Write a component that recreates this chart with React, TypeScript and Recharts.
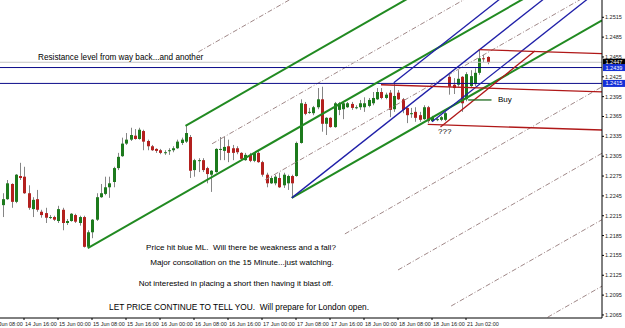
import React from 'react';
import { ComposedChart, Bar, XAxis, YAxis, ReferenceLine } from 'recharts';

// hourly candles, first one is bar #3 (bar 0 = 14 Jun 08:00)
const FIRST_BAR = 3;
const opens = [
  1.2231, 1.2240, 1.2263, 1.2236, 1.2275, 1.2274, 1.2249, 1.2225, 1.2240, 1.2221,
  1.2219, 1.2213, 1.2213, 1.2207, 1.2224, 1.2204, 1.2207, 1.2216, 1.2204, 1.2213,
  1.2168, 1.2190, 1.2209, 1.2243, 1.2248, 1.2258, 1.2266, 1.2287, 1.2305, 1.2324,
  1.2330, 1.2336, 1.2331, 1.2343, 1.2328, 1.2320, 1.2316, 1.2314, 1.2311, 1.2314,
  1.2314, 1.2317, 1.2325, 1.2327, 1.2334, 1.2284, 1.2298, 1.2299, 1.2287, 1.2277,
  1.2281, 1.2316, 1.2313, 1.2320, 1.2317, 1.2317, 1.2310, 1.2299, 1.2307, 1.2298,
  1.2310, 1.2296, 1.2277, 1.2264, 1.2264, 1.2272, 1.2261, 1.2264, 1.2275, 1.2275,
  1.2325, 1.2384, 1.2372, 1.2370, 1.2379, 1.2391, 1.2354, 1.2363, 1.2349, 1.2375,
  1.2376, 1.2379, 1.2384, 1.2379, 1.2379, 1.2379, 1.2381, 1.2385, 1.2391, 1.2402,
  1.2393, 1.2401, 1.2376, 1.2401, 1.2391, 1.2378, 1.2370, 1.2372, 1.2367, 1.2361,
  1.2379, 1.2358, 1.2361, 1.2360, 1.2360, 1.2425, 1.2413, 1.2413, 1.2425, 1.2391,
  1.2411, 1.2414, 1.2431, 1.2453, 1.2455,
];
const highs = [
  1.2249, 1.2269, 1.2264, 1.2278, 1.2295, 1.2289, 1.2261, 1.2243, 1.2254, 1.2224,
  1.2227, 1.2216, 1.2215, 1.2230, 1.2227, 1.2210, 1.2219, 1.2218, 1.2215, 1.2215,
  1.2193, 1.2210, 1.2249, 1.2263, 1.2274, 1.2274, 1.2289, 1.2310, 1.2333, 1.2340,
  1.2348, 1.2346, 1.2348, 1.2345, 1.2330, 1.2322, 1.2317, 1.2316, 1.2314, 1.2317,
  1.2320, 1.2330, 1.2333, 1.2351, 1.2337, 1.2301, 1.2302, 1.2302, 1.2289, 1.2284,
  1.2317, 1.2334, 1.2334, 1.2330, 1.2322, 1.2320, 1.2311, 1.2310, 1.2310, 1.2311,
  1.2313, 1.2298, 1.2280, 1.2275, 1.2277, 1.2280, 1.2280, 1.2277, 1.2277, 1.2327,
  1.2391, 1.2387, 1.2378, 1.2381, 1.2408, 1.2410, 1.2364, 1.2364, 1.2387, 1.2387,
  1.2388, 1.2387, 1.2387, 1.2382, 1.2390, 1.2394, 1.2393, 1.2402, 1.2408, 1.2408,
  1.2401, 1.2405, 1.2416, 1.2405, 1.2393, 1.2379, 1.2378, 1.2379, 1.2372, 1.2382,
  1.2381, 1.2366, 1.2364, 1.2366, 1.2372, 1.2431, 1.2423, 1.2435, 1.2426, 1.2432,
  1.2435, 1.2438, 1.2466, 1.2458, 1.2456,
];
const lows = [
  1.2213, 1.2239, 1.2227, 1.2234, 1.2269, 1.2248, 1.2224, 1.2213, 1.2221, 1.2212,
  1.2204, 1.2210, 1.2207, 1.2204, 1.2193, 1.2201, 1.2206, 1.2204, 1.2200, 1.2167,
  1.2166, 1.2181, 1.2207, 1.2242, 1.2246, 1.2242, 1.2258, 1.2284, 1.2304, 1.2322,
  1.2328, 1.2330, 1.2330, 1.2314, 1.2314, 1.2313, 1.2310, 1.2308, 1.2307, 1.2307,
  1.2311, 1.2316, 1.2322, 1.2325, 1.2272, 1.2274, 1.2281, 1.2281, 1.2264, 1.2251,
  1.2280, 1.2299, 1.2299, 1.2296, 1.2299, 1.2308, 1.2299, 1.2298, 1.2296, 1.2296,
  1.2295, 1.2274, 1.2258, 1.2263, 1.2261, 1.2257, 1.2257, 1.2254, 1.2242, 1.2274,
  1.2324, 1.2367, 1.2369, 1.2367, 1.2376, 1.2342, 1.2337, 1.2348, 1.2348, 1.2367,
  1.2361, 1.2378, 1.2375, 1.2376, 1.2375, 1.2372, 1.2379, 1.2382, 1.2390, 1.2391,
  1.2391, 1.2364, 1.2372, 1.2390, 1.2370, 1.2355, 1.2363, 1.2357, 1.2357, 1.2360,
  1.2355, 1.2357, 1.2358, 1.2358, 1.2358, 1.2398, 1.2399, 1.2410, 1.2372, 1.2388,
  1.2408, 1.2411, 1.2428, 1.2447, 1.2444,
];
const closes = [
  1.2240, 1.2264, 1.2236, 1.2277, 1.2272, 1.2249, 1.2227, 1.2239, 1.2224, 1.2216,
  1.2212, 1.2213, 1.2209, 1.2225, 1.2204, 1.2207, 1.2218, 1.2206, 1.2213, 1.2168,
  1.2190, 1.2209, 1.2243, 1.2249, 1.2258, 1.2264, 1.2287, 1.2304, 1.2324, 1.2330,
  1.2337, 1.2331, 1.2345, 1.2327, 1.2320, 1.2314, 1.2313, 1.2310, 1.2311, 1.2314,
  1.2317, 1.2327, 1.2330, 1.2340, 1.2283, 1.2299, 1.2299, 1.2284, 1.2278, 1.2283,
  1.2316, 1.2316, 1.2319, 1.2310, 1.2310, 1.2311, 1.2301, 1.2307, 1.2298, 1.2310,
  1.2296, 1.2277, 1.2264, 1.2272, 1.2274, 1.2258, 1.2277, 1.2275, 1.2264, 1.2325,
  1.2385, 1.2369, 1.2372, 1.2379, 1.2391, 1.2354, 1.2363, 1.2349, 1.2385, 1.2385,
  1.2385, 1.2385, 1.2378, 1.2379, 1.2385, 1.2385, 1.2390, 1.2393, 1.2402, 1.2393,
  1.2398, 1.2375, 1.2396, 1.2391, 1.2375, 1.2367, 1.2370, 1.2363, 1.2360, 1.2379,
  1.2358, 1.2364, 1.2361, 1.2364, 1.2370, 1.2410, 1.2408, 1.2422, 1.2385, 1.2429,
  1.2426, 1.2431, 1.2453, 1.2452, 1.2447,
];

const timeTicks = [0, 8, 16, 24, 32, 40, 48, 56, 64, 72, 80, 88, 96, 104, 112];
const timeLabels = [
  '14 Jun 08:00', '14 Jun 16:00', '15 Jun 00:00', '15 Jun 08:00', '15 Jun 16:00',
  '16 Jun 00:00', '16 Jun 08:00', '16 Jun 16:00', '17 Jun 00:00', '17 Jun 08:00',
  '17 Jun 16:00', '18 Jun 00:00', '18 Jun 08:00', '18 Jun 16:00', '21 Jun 02:00',
];
const priceTicks = [
  1.2065, 1.2095, 1.2125, 1.2155, 1.2185, 1.2215, 1.2245, 1.2275,
  1.2305, 1.2335, 1.2365, 1.2395, 1.2425, 1.2455, 1.2485, 1.2515,
];

const bidPrice = 1.2447;
const resistance = [1.2439, 1.2415];

// pitchfork pivots: [bar, price]
const greenFork = [[23, 1.2166], [46, 1.2351], [71, 1.2242]];
// [level multiple, first bar or null = start on the P2-P3 line]
const greenLevels: [number, number | null][] = [[2, 49], [0.5, null], [-0.5, null], [-2, null], [-3, null], [-4, null], [-5, null]];
const blueFork = [[71, 1.2242], [95, 1.2416], [104, 1.2357]];
const redFork = [[92, 1.2413], [115, 1.2466], [103, 1.2353]];
const redTrend = [[106, 1.2349], [128.2, 1.2464]];
const buyLine = [[112.5, 1.2390], [118, 1.2390]];

const X_MIN = -1.412;
const X_MAX = 144;
const Y_MIN = 1.20604;
const Y_MAX = 1.25411;

const BULL = '#1d7a1d';
const BEAR = '#b3201e';
const WICK = '#858585';
const GREEN = '#218a21';
const BLUE = '#1f1fa8';
const NAVY = '#0b0b8a';
const RED = '#b01818';
const DASH = '#a08888';

const rows = opens.map((o, k) => ({
  i: FIRST_BAR + k,
  o,
  h: highs[k],
  l: lows[k],
  c: closes[k],
  range: [lows[k], highs[k]],
}));

function ray(p: number[], s: number) {
  return [{ x: p[0], y: p[1] }, { x: X_MAX, y: p[1] + s * (X_MAX - p[0]) }];
}

function fork(pts: number[][]) {
  const [p1, p2, p3] = pts;
  const mx = (p2[0] + p3[0]) / 2;
  const my = (p2[1] + p3[1]) / 2;
  const s = (my - p1[1]) / (mx - p1[0]);
  return { s, lines: [ray(p1, s), ray(p2, s), ray(p3, s)] };
}

// extra levels parallel to the median; by default they start on the line through P2 and P3
function forkLevel(pts: number[][], f: number, from: number | null) {
  const { s } = fork(pts);
  const [, p2, p3] = pts;
  const t = 0.5 - f / 2;
  const start = [p2[0] + t * (p3[0] - p2[0]), p2[1] + t * (p3[1] - p2[1])];
  if (from != null) {
    return ray([from, start[1] + s * (from - start[0])], s);
  }
  return ray(start, s);
}

function Candle(props: any) {
  const { x, y, width, height, payload } = props;
  if (x == null || payload == null) return null;
  const top = height < 0 ? y + height : y;
  const hh = Math.abs(height);
  const { o, h, l, c } = payload;
  const k = h === l ? 0 : hh / (h - l);
  const yO = top + (h - o) * k;
  const yC = top + (h - c) * k;
  const cx = Math.round(x + width / 2) + 0.5;
  const bTop = Math.min(yO, yC);
  const bH = Math.max(1, Math.abs(yO - yC));
  return (
    <g>
      <line x1={cx} x2={cx} y1={top} y2={top + hh} stroke={WICK} strokeWidth={1} />
      <rect x={cx - 1.5} y={bTop} width={3} height={bH} fill={c >= o ? BULL : BEAR} />
    </g>
  );
}

function TimeTick({ x, y, index }: any) {
  return (
    <g>
      <line x1={x} x2={x} y1={y} y2={y + 2} stroke="#000" />
      <text x={x + 1} y={y + 7.5} fontSize={5.5} fill="#222" fontFamily="'Liberation Sans', Arial, sans-serif">
        {timeLabels[index]}
      </text>
    </g>
  );
}

function PriceTick({ x, y, payload }: any) {
  return (
    <g>
      <line x1={x} x2={x + 2} y1={y} y2={y} stroke="#000" />
      <text x={x + 3} y={y} dy={2} fontSize={5.5} fill="#222" fontFamily="'Liberation Sans', Arial, sans-serif">
        {payload.value.toFixed(4)}
      </text>
    </g>
  );
}

function PriceBox({ viewBox, text, fill }: any) {
  if (!viewBox) return null;
  const x = viewBox.x + viewBox.width + 1;
  const y = viewBox.y;
  return (
    <g>
      <rect x={x} y={y - 3.5} width={22} height={7} fill={fill} />
      <text x={x + 2.5} y={y} dy={2} fontSize={5.5} fill="#fff" fontFamily="'Liberation Sans', Arial, sans-serif">
        {text}
      </text>
    </g>
  );
}

const notes = [
  { text: 'Price hit blue ML.  Will there be weakness and a fall?', cx: 241, cy: 248, size: 8.1 },
  { text: 'Major consoliation on the 15 Minute...just watching.', cx: 242, cy: 263, size: 8.1 },
  { text: 'Not interested in placing a short then having it blast off.', cx: 236, cy: 284, size: 8 },
  { text: 'LET PRICE CONTINUE TO TELL YOU.  Will prepare for London open.', cx: 239, cy: 307, size: 8.3 },
];

export default function App() {
  const g = fork(greenFork);
  const b = fork(blueFork);
  const r = fork(redFork);
  const font = "'Liberation Sans', Arial, sans-serif";
  return (
    <div style={{ position: 'absolute', left: 0, top: 0, width: 625, height: 328, overflow: 'hidden', background: '#fff', fontFamily: font }}>
      <div style={{ position: 'absolute', left: -16, top: 0 }}>
        <ComposedChart width={641} height={328} data={rows} margin={{ top: 0, right: 0, bottom: 0, left: 0 }}>
          <XAxis
            dataKey="i" type="number" domain={[X_MIN, X_MAX]} allowDataOverflow
            ticks={timeTicks} interval={0} height={10} tickSize={0} tickMargin={0}
            tickLine={false} axisLine={{ stroke: '#000' }} tick={<TimeTick />}
          />
          <YAxis
            orientation="right" type="number" domain={[Y_MIN, Y_MAX]} allowDataOverflow
            ticks={priceTicks} interval={0} width={23} tickSize={0} tickMargin={0}
            tickLine={false} axisLine={{ stroke: '#000' }} tick={<PriceTick />}
          />
          <Bar dataKey="range" shape={<Candle />} barSize={3} isAnimationActive={false} />

          {greenLevels.map(([f, from]) => (
            <ReferenceLine key={'gl' + f} segment={forkLevel(greenFork, f, from)} stroke={DASH} strokeWidth={1} strokeDasharray="5 2 1 2" ifOverflow="hidden" />
          ))}
          <ReferenceLine y={bidPrice} stroke="#c4c4c4" strokeWidth={1} label={<PriceBox text={bidPrice.toFixed(4)} fill="#000" />} />
          {resistance.map((p) => (
            <ReferenceLine key={'res' + p} y={p} stroke={NAVY} strokeWidth={1} label={<PriceBox text={p.toFixed(4)} fill="#1530d8" />} />
          ))}
          {g.lines.map((seg, k) => (
            <ReferenceLine key={'g' + k} segment={seg} stroke={GREEN} strokeWidth={2} ifOverflow="hidden" />
          ))}
          {b.lines.map((seg, k) => (
            <ReferenceLine key={'b' + k} segment={seg} stroke={BLUE} strokeWidth={1.3} ifOverflow="hidden" />
          ))}
          {r.lines.map((seg, k) => (
            <ReferenceLine key={'r' + k} segment={seg} stroke={RED} strokeWidth={1.3} ifOverflow="hidden" />
          ))}
          <ReferenceLine segment={redTrend.map(([x, y]) => ({ x, y }))} stroke={RED} strokeWidth={1.3} ifOverflow="hidden" />
          <ReferenceLine segment={buyLine.map(([x, y]) => ({ x, y }))} stroke="#1f6b1f" strokeWidth={1.3} ifOverflow="hidden" />
        </ComposedChart>
      </div>

      <div style={{ position: 'absolute', left: 38, top: 52.5, fontSize: 8.2, whiteSpace: 'pre', lineHeight: '10px' }}>
        Resistance level from way back...and another
      </div>
      {notes.map((n) => (
        <div key={n.text} style={{ position: 'absolute', left: n.cx - 200, width: 400, top: n.cy - 5, textAlign: 'center', fontSize: n.size, whiteSpace: 'pre', lineHeight: '10px' }}>
          {n.text}
        </div>
      ))}
      <div style={{ position: 'absolute', left: 498, top: 95, fontSize: 8, lineHeight: '10px' }}>Buy</div>
      <div style={{ position: 'absolute', left: 438, top: 127, fontSize: 8, lineHeight: '10px' }}>???</div>
    </div>
  );
}
